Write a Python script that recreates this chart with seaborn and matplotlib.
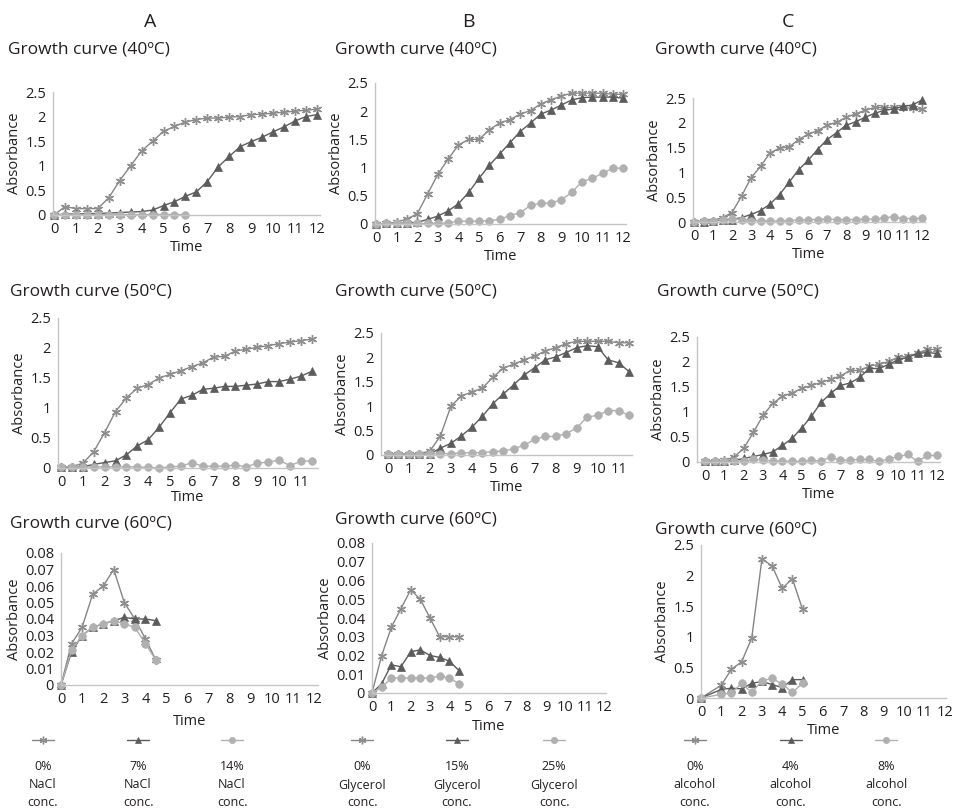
import matplotlib
matplotlib.use("Agg")
import matplotlib.pyplot as plt
from matplotlib.lines import Line2D
from matplotlib.ticker import FuncFormatter
import pandas as pd
import seaborn as sns

W, H = 957, 811

# time points (hours)
T25 = [0, 0.5, 1, 1.5, 2, 2.5, 3, 3.5, 4, 4.5, 5, 5.5, 6, 6.5, 7, 7.5, 8, 8.5, 9, 9.5, 10, 10.5, 11, 11.5, 12]
T24 = [0, 0.5, 1, 1.5, 2, 2.5, 3, 3.5, 4, 4.5, 5, 5.5, 6, 6.5, 7, 7.5, 8, 8.5, 9, 9.5, 10, 10.5, 11, 11.5]
T13 = [0, 0.5, 1, 1.5, 2, 2.5, 3, 3.5, 4, 4.5, 5, 5.5, 6]
T10 = [0, 0.5, 1, 1.5, 2, 2.5, 3, 3.5, 4, 4.5]
T10C = [0, 1, 1.5, 2, 2.5, 3, 3.5, 4, 4.5, 5]

# A: NaCl
a40_0 = [0, 0.17, 0.13, 0.13, 0.13, 0.35, 0.7, 1.0, 1.3, 1.5, 1.7, 1.8, 1.89, 1.94, 1.97, 1.97, 1.99, 2.0, 2.04, 2.05, 2.07, 2.09, 2.11, 2.13, 2.15]
a40_7 = [0, 0.02, 0.02, 0.03, 0.03, 0.04, 0.05, 0.06, 0.07, 0.1, 0.19, 0.27, 0.38, 0.47, 0.68, 0.98, 1.19, 1.39, 1.49, 1.58, 1.69, 1.79, 1.91, 2.0, 2.04]
a40_14 = [0, 0.01, 0.01, 0.01, 0.01, 0.01, 0.01, 0.01, 0.01, 0.01, 0.01, 0.01, 0.01]
a50_0 = [0.02, 0.02, 0.08, 0.27, 0.59, 0.94, 1.17, 1.33, 1.39, 1.5, 1.56, 1.62, 1.69, 1.75, 1.85, 1.86, 1.95, 1.98, 2.01, 2.04, 2.07, 2.1, 2.12, 2.15]
a50_7 = [0.01, 0.01, 0.02, 0.06, 0.09, 0.12, 0.22, 0.37, 0.47, 0.68, 0.92, 1.15, 1.21, 1.31, 1.33, 1.36, 1.36, 1.38, 1.4, 1.44, 1.44, 1.48, 1.53, 1.61]
a50_14 = [0.02, 0.02, 0.01, 0.02, 0.02, 0.02, 0.02, 0.02, 0.01, 0.0, 0.02, 0.03, 0.09, 0.03, 0.03, 0.03, 0.05, 0.02, 0.08, 0.1, 0.13, 0.04, 0.11, 0.12]
a60_0 = [0, 0.025, 0.035, 0.055, 0.06, 0.07, 0.05, 0.04, 0.028, 0.015]
a60_7 = [0, 0.02, 0.03, 0.035, 0.037, 0.039, 0.041, 0.04, 0.04, 0.039]
a60_14 = [0, 0.021, 0.03, 0.035, 0.037, 0.039, 0.037, 0.035, 0.025, 0.015]

# B: glycerol
b40_0 = [0, 0.01, 0.03, 0.09, 0.18, 0.53, 0.88, 1.15, 1.4, 1.5, 1.5, 1.67, 1.79, 1.85, 1.95, 2.01, 2.13, 2.2, 2.27, 2.32, 2.32, 2.32, 2.32, 2.3, 2.3]
b40_15 = [0, 0.01, 0.01, 0.02, 0.03, 0.08, 0.14, 0.23, 0.36, 0.56, 0.81, 1.04, 1.24, 1.44, 1.64, 1.79, 1.95, 2.02, 2.11, 2.2, 2.24, 2.25, 2.25, 2.25, 2.23]
b40_25 = [0, 0.01, 0.01, 0.01, 0.01, 0.01, 0.01, 0.02, 0.05, 0.05, 0.05, 0.06, 0.08, 0.15, 0.2, 0.33, 0.37, 0.37, 0.43, 0.56, 0.75, 0.81, 0.9, 0.99, 0.99]
b50_0 = [0.02, 0.02, 0.02, 0.03, 0.08, 0.39, 1.0, 1.21, 1.29, 1.37, 1.59, 1.78, 1.86, 1.95, 2.03, 2.13, 2.2, 2.28, 2.33, 2.33, 2.33, 2.33, 2.3, 2.3]
b50_15 = [0.02, 0.02, 0.02, 0.02, 0.02, 0.14, 0.24, 0.39, 0.57, 0.79, 1.05, 1.25, 1.44, 1.64, 1.79, 1.95, 2.01, 2.1, 2.2, 2.24, 2.22, 1.95, 1.89, 1.71]
b50_25 = [0.02, 0.02, 0.02, 0.02, 0.02, 0.03, 0.03, 0.04, 0.05, 0.05, 0.07, 0.08, 0.13, 0.2, 0.32, 0.38, 0.38, 0.44, 0.55, 0.78, 0.81, 0.91, 0.91, 0.81]
b60_0 = [0, 0.02, 0.035, 0.045, 0.055, 0.05, 0.04, 0.03, 0.03, 0.03]
b60_15 = [0, 0.005, 0.015, 0.014, 0.022, 0.023, 0.02, 0.019, 0.017, 0.012]
b60_25 = [0, 0.003, 0.008, 0.008, 0.008, 0.008, 0.008, 0.009, 0.008, 0.005]

# C: alcohol
c40_0 = [0, 0.02, 0.03, 0.09, 0.19, 0.52, 0.89, 1.12, 1.39, 1.49, 1.51, 1.66, 1.77, 1.84, 1.95, 2.01, 2.11, 2.18, 2.25, 2.31, 2.31, 2.31, 2.31, 2.29, 2.27]
c40_4 = [0, 0.01, 0.02, 0.04, 0.05, 0.09, 0.15, 0.23, 0.36, 0.55, 0.8, 1.05, 1.24, 1.46, 1.66, 1.8, 1.95, 2.02, 2.11, 2.19, 2.25, 2.28, 2.33, 2.36, 2.46]
c40_8 = [0, 0.02, 0.03, 0.05, 0.07, 0.05, 0.03, 0.03, 0.02, 0.02, 0.03, 0.04, 0.05, 0.05, 0.06, 0.05, 0.05, 0.05, 0.06, 0.06, 0.08, 0.11, 0.07, 0.07, 0.08]
c50_0 = [0.02, 0.02, 0.03, 0.1, 0.27, 0.59, 0.93, 1.17, 1.31, 1.38, 1.47, 1.53, 1.59, 1.65, 1.72, 1.83, 1.83, 1.92, 1.95, 2.01, 2.1, 2.11, 2.18, 2.25, 2.25]
c50_4 = [0.01, 0.01, 0.02, 0.03, 0.07, 0.11, 0.15, 0.2, 0.33, 0.47, 0.68, 0.91, 1.19, 1.37, 1.53, 1.58, 1.69, 1.87, 1.87, 1.95, 2.05, 2.09, 2.17, 2.19, 2.17]
c50_8 = [0.02, 0.02, 0.01, 0.02, 0.02, 0.05, 0.04, 0.02, 0.02, 0.01, 0.02, 0.03, 0.02, 0.1, 0.03, 0.04, 0.05, 0.05, 0.01, 0.06, 0.11, 0.15, 0.01, 0.13, 0.13]
c60_0 = [0, 0.21, 0.47, 0.59, 0.98, 2.27, 2.16, 1.79, 1.95, 1.45]
c60_4 = [0, 0.14, 0.16, 0.15, 0.24, 0.27, 0.22, 0.17, 0.3, 0.3]
c60_8 = [0, 0.06, 0.08, 0.24, 0.09, 0.28, 0.32, 0.23, 0.09, 0.24]

columns = ["A", "B", "C"]
legend_labels = {
    "A": ["0%\nNaCl\nconc.", "7%\nNaCl\nconc.", "14%\nNaCl\nconc."],
    "B": ["0%\nGlycerol\nconc.", "15%\nGlycerol\nconc.", "25%\nGlycerol\nconc."],
    "C": ["0%\nalcohol\nconc.", "4%\nalcohol\nconc.", "8%\nalcohol\nconc."],
}

STAR = (6, 2, 0)
styles = [
    dict(marker=STAR, color="#858585", mec="#8f8f8f", ms=6.5, mew=1.0),
    dict(marker="^", color="#5c5c5c", mec="#5c5c5c", ms=5.5, mew=0.5),
    dict(marker="o", color="#b0b0b0", mec="#b0b0b0", ms=5.5, mew=0.5),
]

# panel -> (series, time axes)
panels = {
    ("A", "40"): ([a40_0, a40_7, a40_14], [T25, T25, T13]),
    ("A", "50"): ([a50_0, a50_7, a50_14], [T24, T24, T24]),
    ("A", "60"): ([a60_0, a60_7, a60_14], [T10, T10, T10]),
    ("B", "40"): ([b40_0, b40_15, b40_25], [T25, T25, T25]),
    ("B", "50"): ([b50_0, b50_15, b50_25], [T24, T24, T24]),
    ("B", "60"): ([b60_0, b60_15, b60_25], [T10, T10, T10]),
    ("C", "40"): ([c40_0, c40_4, c40_8], [T25, T25, T25]),
    ("C", "50"): ([c50_0, c50_4, c50_8], [T25, T25, T25]),
    ("C", "60"): ([c60_0, c60_4, c60_8], [T10C, T10C, T10C]),
}

# layout in pixels: spine_left, x0_px, px_per_unit, right_px, y0_px, ytop_px, ymax, ystep, title(x,y), time labelpad
layout = {
    ("A", "40"): (53, 54, 21.9, 320, 215, 92, 2.5, 0.5, (8, 50), 2),
    ("A", "50"): (58, 61, 21.8, 318, 468, 318, 2.5, 0.5, (10, 292), 0),
    ("A", "60"): (61, 61, 21.1, 318, 685, 553, 0.08, 0.01, (10, 523), 5),
    ("B", "40"): (375, 376, 20.6, 626, 224, 83, 2.5, 0.5, (335, 50), 2),
    ("B", "50"): (381, 388, 20.96, 632, 455, 333, 2.5, 0.5, (335, 292), 2),
    ("B", "60"): (372, 372, 19.33, 606, 693, 543, 0.08, 0.01, (335, 520), 3),
    ("C", "40"): (693, 694, 19.0, 925, 222, 98, 2.5, 0.5, (655, 50), 2),
    ("C", "50"): (697, 705, 19.33, 940, 462, 337, 2.5, 0.5, (657, 292), 2),
    ("C", "60"): (701, 701, 20.3, 946, 698, 545, 2.5, 0.5, (655, 530), 2),
}

sns.set_style("white")
plt.rcParams["font.family"] = ["Open Sans", "DejaVu Sans"]
TXT = "#231f20"
AXC = "#c4c4c4"

fig = plt.figure(figsize=(W / 100, H / 100), dpi=100)


def px_axes(left, right, top, bottom):
    return fig.add_axes([left / W, 1 - bottom / H, (right - left) / W, (bottom - top) / H])


fmt = FuncFormatter(lambda v, p: f"{v:g}")

for key, (series, times) in panels.items():
    sl, x0, ppu, rp, y0, yt, ymax, ystep, (tx, ty), lp = layout[key]
    ax = px_axes(sl, rp, yt, y0)
    for vals, t, st in zip(series, times, styles):
        df = pd.DataFrame({"Time": t, "Absorbance": vals})
        sns.lineplot(data=df, x="Time", y="Absorbance", ax=ax, color=st["color"],
                     marker=st["marker"], markersize=st["ms"], markeredgecolor=st["mec"],
                     markerfacecolor=st["color"], markeredgewidth=st["mew"],
                     linewidth=1.0, clip_on=False, errorbar=None)
    ax.set_xticks(range(13))
    nt = int(round(ymax / ystep))
    ax.set_yticks([i * ystep for i in range(nt + 1)])
    # limits after ticks, otherwise set_xticks widens the view
    ax.set_xlim((sl - x0) / ppu, (rp - x0) / ppu)
    ax.set_ylim(0, ymax)
    ax.yaxis.set_major_formatter(fmt)
    ax.xaxis.set_major_formatter(fmt)
    for s in ["top", "right"]:
        ax.spines[s].set_visible(False)
    for s in ["left", "bottom"]:
        ax.spines[s].set_color(AXC)
        ax.spines[s].set_linewidth(1.0)
    ax.tick_params(axis="both", length=3, width=0.8, color=AXC, labelsize=10.5,
                   labelcolor=TXT, pad=2, direction="out")
    ax.set_xlabel("Time", fontsize=10.5, color=TXT, labelpad=lp)
    ax.set_ylabel("Absorbance", fontsize=10.5, color=TXT, labelpad=2)
    fig.text(tx / W, 1 - ty / H, f"Growth curve ({key[1]}ºC)", fontsize=12.5,
             color=TXT, ha="left", va="center")

# column letters
for letter, cx in zip(columns, [150, 468, 788]):
    fig.text(cx / W, 1 - 22 / H, letter, fontsize=14, color=TXT, ha="center", va="center")

# legends under each column: key line, then three text lines
legend_x = {"A": [43, 138, 232], "B": [362, 457, 554], "C": [695, 791, 886]}
LEG_Y = 740
TEXT_Y = [766, 785, 803]
for letter in columns:
    for cx, lab, st in zip(legend_x[letter], legend_labels[letter], styles):
        ln = Line2D([(cx - 11) / W, cx / W, (cx + 11) / W], [1 - LEG_Y / H] * 3,
                    transform=fig.transFigure, color=st["color"], linewidth=1.0,
                    marker=st["marker"], markevery=[1], markersize=st["ms"] - 1,
                    markeredgecolor=st["mec"], markerfacecolor=st["color"],
                    markeredgewidth=st["mew"])
        fig.add_artist(ln)
        for line, ty in zip(lab.split("\n"), TEXT_Y):
            fig.text(cx / W, 1 - ty / H, line, fontsize=9, color=TXT, ha="center",
                     va="center")

fig.savefig("out.png", dpi=100)
